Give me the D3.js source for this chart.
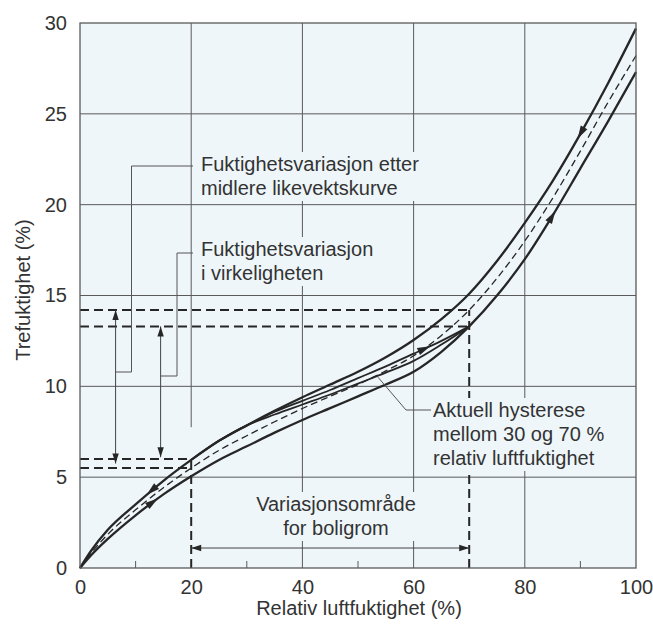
<!DOCTYPE html>
<html><head><meta charset="utf-8">
<script src="https://cdn.jsdelivr.net/npm/d3@7"></script>
<style>
html,body{margin:0;padding:0;background:#fff;}
text{font-family:"Liberation Sans",Arial,sans-serif;fill:#333;}
</style></head>
<body><svg id="c" width="653" height="625"></svg>
<script>
// ---- data ----
const rh      = [0, 2, 5, 10, 15, 20, 25, 30, 35, 40, 45, 50, 55, 60, 65, 70, 75, 80, 85, 90, 95, 100];
const upper   = [0, 0.95, 2.1, 3.5, 4.8, 5.95, 7.0, 7.85, 8.65, 9.4, 10.1, 10.8, 11.6, 12.55, 13.7, 15.1, 16.9, 19.0, 21.3, 23.9, 26.7, 29.7];
const lower   = [0, 0.7, 1.6, 2.9, 4.05, 5.05, 5.95, 6.7, 7.45, 8.15, 8.8, 9.45, 10.1, 10.8, 11.9, 13.3, 15.0, 17.0, 19.4, 22.0, 24.6, 27.3];
const mean    = [0, 0.82, 1.85, 3.2, 4.42, 5.5, 6.48, 7.28, 8.05, 8.78, 9.45, 10.1, 10.85, 11.68, 12.8, 14.2, 15.95, 18.0, 20.35, 22.95, 25.65, 28.2];
const scanRh  = [20, 25, 30, 35, 40, 45, 50, 55, 60, 65, 70];
const scanA   = [5.95, 7.0, 7.85, 8.6, 9.2, 9.8, 10.45, 11.1, 11.8, 12.5, 13.3];
const scanB   = [5.95, 7.0, 7.85, 8.45, 9.0, 9.55, 10.15, 10.75, 11.4, 12.3, 13.3];
const xTicks  = [0, 20, 40, 60, 80, 100];
const xMinor  = [10, 30, 50, 70, 90];
const yTicks  = [0, 5, 10, 15, 20, 25, 30];
const rangeLo = 20, rangeHi = 70;            // variasjonsområde
const levelsLo = [6.0, 5.5], levelsHi = [14.2, 13.3];
const labels = {
  mid:  ["Fuktighetsvariasjon etter", "midlere likevektskurve"],
  real: ["Fuktighetsvariasjon", "i virkeligheten"],
  hyst: ["Aktuell hysterese", "mellom 30 og 70 %", "relativ luftfuktighet"],
  span: ["Variasjonsområde", "for boligrom"]
};
const xTitle = "Relativ luftfuktighet (%)", yTitle = "Trefuktighet (%)";

// ---- setup ----
const svg = d3.select("#c");
const x = d3.scaleLinear([0, 100], [80, 636]);
const y = d3.scaleLinear([0, 30], [568, 23]);
const BG = "#eef6fa", GRID = "#5a5a5a", INK = "#262626";

svg.append("rect").attr("x", x(0)).attr("y", y(30)).attr("width", x(100) - x(0)).attr("height", y(0) - y(30)).attr("fill", BG);

const grid = svg.append("g").attr("stroke", GRID).attr("stroke-width", 1);
[40, 60, 80].forEach(v => grid.append("line").attr("x1", x(v)).attr("x2", x(v)).attr("y1", y(30)).attr("y2", y(0)));
grid.append("line").attr("x1", x(20)).attr("x2", x(20)).attr("y1", y(30)).attr("y2", y(7.75));
[5, 10, 15, 20, 25].forEach(v => grid.append("line").attr("y1", y(v)).attr("y2", y(v)).attr("x1", x(0)).attr("x2", x(100)));
xMinor.forEach(v => grid.append("line").attr("x1", x(v)).attr("x2", x(v)).attr("y1", y(0)).attr("y2", y(0) - 7));

const marks = svg.append("g");
const maskG = svg.append("g");
const textG = svg.append("g");

// frame
svg.append("rect").attr("x", x(0)).attr("y", y(30)).attr("width", x(100) - x(0)).attr("height", y(0) - y(30))
  .attr("fill", "none").attr("stroke", GRID).attr("stroke-width", 1.3);

// axes
const ax = svg.append("g").attr("transform", `translate(0,${y(0)})`)
  .call(d3.axisBottom(x).tickValues(xTicks).tickSize(0).tickPadding(12));
const ay = svg.append("g").attr("transform", `translate(${x(0)},0)`)
  .call(d3.axisLeft(y).tickValues(yTicks).tickSize(0).tickPadding(13));
[ax, ay].forEach(a => { a.select(".domain").remove(); a.selectAll("text").attr("font-size", 20).attr("fill", "#333").attr("font-family", '"Liberation Sans",Arial,sans-serif'); });

textG.append("text").attr("x", 359).attr("y", 615).attr("text-anchor", "middle").attr("font-size", 20).text(xTitle);
textG.append("text").attr("transform", "translate(30,290) rotate(-90)").attr("text-anchor", "middle").attr("font-size", 20).text(yTitle);

// ---- dashed reference box lines ----
const dashG = marks.append("g").attr("stroke", INK).attr("stroke-width", 2).attr("stroke-dasharray", "9,5").attr("fill", "none");
levelsHi.forEach(v => dashG.append("line").attr("x1", x(0)).attr("x2", x(rangeHi)).attr("y1", y(v)).attr("y2", y(v)));
levelsLo.forEach(v => dashG.append("line").attr("x1", x(0)).attr("x2", x(rangeLo)).attr("y1", y(v)).attr("y2", y(v)));
dashG.append("line").attr("x1", x(rangeLo)).attr("x2", x(rangeLo)).attr("y1", y(0)).attr("y2", y(levelsLo[0]));
dashG.append("line").attr("x1", x(rangeHi)).attr("x2", x(rangeHi)).attr("y1", y(0)).attr("y2", y(levelsHi[0]));

// ---- curves ----
const line = d3.line().x(d => x(d[0])).y(d => y(d[1])).curve(d3.curveMonotoneX);
function curve(xs, ys, w, dash) {
  const p = marks.append("path").attr("d", line(xs.map((v, i) => [v, ys[i]])))
    .attr("fill", "none").attr("stroke", INK).attr("stroke-width", w);
  if (dash) p.attr("stroke-dasharray", dash);
  return p;
}
curve(rh, mean, 1.3, "7,4");
const pScanA = curve(scanRh, scanA, 1.8);
const pScanB = curve(scanRh, scanB, 1.8);
const pUp = curve(rh, upper, 2.3);
const pLo = curve(rh, lower, 2.3);

function head(g, px, py, ang, len = 11, hw = 3.6) {
  const c = Math.cos(ang), s = Math.sin(ang);
  const bx = px - c * len, by = py - s * len;
  g.append("path").attr("d", `M${px},${py}L${bx - s * hw},${by + c * hw}L${bx + s * hw},${by - c * hw}Z`)
    .attr("fill", INK).attr("stroke", "none");
}
function arrowOn(path, v, forward) {
  const node = path.node(), L = node.getTotalLength(), tx = x(v);
  let a = 0, b = L;
  for (let i = 0; i < 40; i++) { const m = (a + b) / 2; if (node.getPointAtLength(m).x < tx) a = m; else b = m; }
  const p = node.getPointAtLength(a), q = node.getPointAtLength(Math.min(L, a + 2)), r = node.getPointAtLength(Math.max(0, a - 2));
  let ang = Math.atan2(q.y - r.y, q.x - r.x);
  if (!forward) ang += Math.PI;
  head(marks, p.x, p.y, ang, 13, 3.8);
}
arrowOn(pUp, 12, false);
arrowOn(pLo, 14, true);
arrowOn(pUp, 89.5, false);
arrowOn(pLo, 85.5, true);
arrowOn(pScanA, 63, true);

// ---- double arrows ----
const thin = marks.append("g");
function dbl(x1, y1, x2, y2) {
  thin.append("line").attr("x1", x1).attr("y1", y1).attr("x2", x2).attr("y2", y2).attr("stroke", "#444").attr("stroke-width", 1);
  const ang = Math.atan2(y2 - y1, x2 - x1);
  head(thin, x2, y2, ang, 10, 3.2);
  head(thin, x1, y1, ang + Math.PI, 10, 3.2);
}
dbl(x(6.4), y(14.2), x(6.4), y(5.75));
dbl(x(14.5), y(13.3), x(14.5), y(6.1));
dbl(x(rangeLo), y(1.1), x(rangeHi), y(1.1));

// ---- leaders ----
const lead = d3.line();
const leadG = marks.append("g").attr("fill", "none").attr("stroke", "#555").attr("stroke-width", 1);
leadG.append("path").attr("d", lead([[x(6.4), 372], [131.5, 372], [131.5, 166], [193, 166]]));
leadG.append("path").attr("d", lead([[x(14.5), 376], [177, 376], [177, 253], [193, 253]]));
leadG.append("path").attr("d", lead([[432, 410], [406, 410], [x(53.6), y(10.5)]]));

// ---- labels with background masks ----
function label(lines, lx, ly, anchor) {
  const t = textG.append("text").attr("font-size", 20).attr("text-anchor", anchor || "start");
  lines.forEach((s, i) => t.append("tspan").attr("x", lx).attr("y", ly + i * 24).text(s));
  const b = t.node().getBBox();
  maskG.append("rect").attr("x", b.x - 2).attr("y", b.y - 1).attr("width", b.width + 4).attr("height", b.height + 3).attr("fill", BG);
}
label(labels.mid, 201, 171);
label(labels.real, 201, 256);
label(labels.hyst, 433, 417);
label(labels.span, 336, 511, "middle");
</script></body></html>
